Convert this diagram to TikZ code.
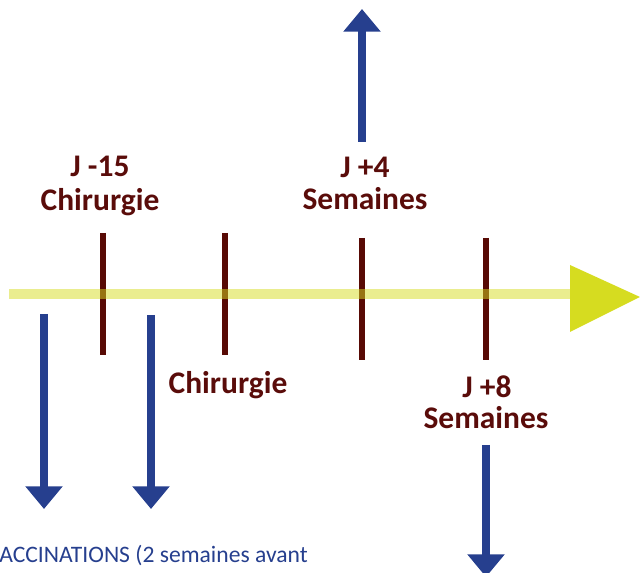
\documentclass[tikz,border=0pt]{standalone}
\usepackage{fontspec}
\setmainfont{Carlito}
\usepackage{tikz}
\usetikzlibrary{arrows.meta,positioning}
\definecolor{tickred}{RGB}{88,10,5}
\definecolor{datered}{RGB}{90,12,10}
\definecolor{vacblue}{RGB}{38,63,142}
\definecolor{lineyellow}{RGB}{214,220,32}

\begin{document}
\begin{tikzpicture}[x=0.75pt, y=-0.75pt]
\tikzset{tickline/.style={draw=tickred,line width=4.5pt},
datelabel/.style={font=\bfseries\fontsize{23.6}{28}\selectfont,text=datered,inner sep=0,anchor=base},
vacarrow/.style={draw=vacblue,line width=6pt,-{Triangle[width=27pt,length=17pt]}}}
\useasboundingbox (0,0) rectangle (640,573);

%% Ticks on the time line
\foreach \u/\x/\top/\bot in {t1/103/233/355, t2/225/233/355, t3/362/238/360, t4/486/238/360} {
\coordinate (\u top) at (\x, \top);
\coordinate (\u bot) at (\x, \bot);
\draw[tickline] (\u top) -- (\u bot);
}

%% Time line
\coordinate (tl0) at (9, 294);
\coordinate (tl1) at (570, 294);
\coordinate (tltip) at (640, 297);
\draw[draw=lineyellow,line width=7.5pt,opacity=0.5] (tl0) -- (tl1);
\fill[lineyellow] (570, 265) -- (tltip) -- (570, 332) -- cycle;

%% Labels
\node (j15) [datelabel] at (100, 177) {J -15};
\node (chir1) [datelabel] at (100, 211) {Chirurgie};
\node (j4) [datelabel] at (365, 178) {J +4};
\node (sem4) [datelabel] at (365, 210) {Semaines};
\node (chir2) [datelabel] at (228, 394) {Chirurgie};
\node (j8) [datelabel] at (487, 398) {J +8};
\node (sem8) [datelabel] at (486, 429) {Semaines};
\node (vacc) [font=\fontsize{17.7}{21}\selectfont,text=vacblue,inner sep=0,anchor=base west] at (-1, 563) {ACCINATIONS (2 semaines avant};

%% Arrows
\foreach \u/\x/\a/\b in {va/44/314/509, vb/151/315/509, vc/362/142/9, vd/486/445/577} {
\coordinate (\u0) at (\x, \a);
\coordinate (\u1) at (\x, \b);
\draw[vacarrow] (\u0) -- (\u1);
}

\end{tikzpicture}
\end{document}
